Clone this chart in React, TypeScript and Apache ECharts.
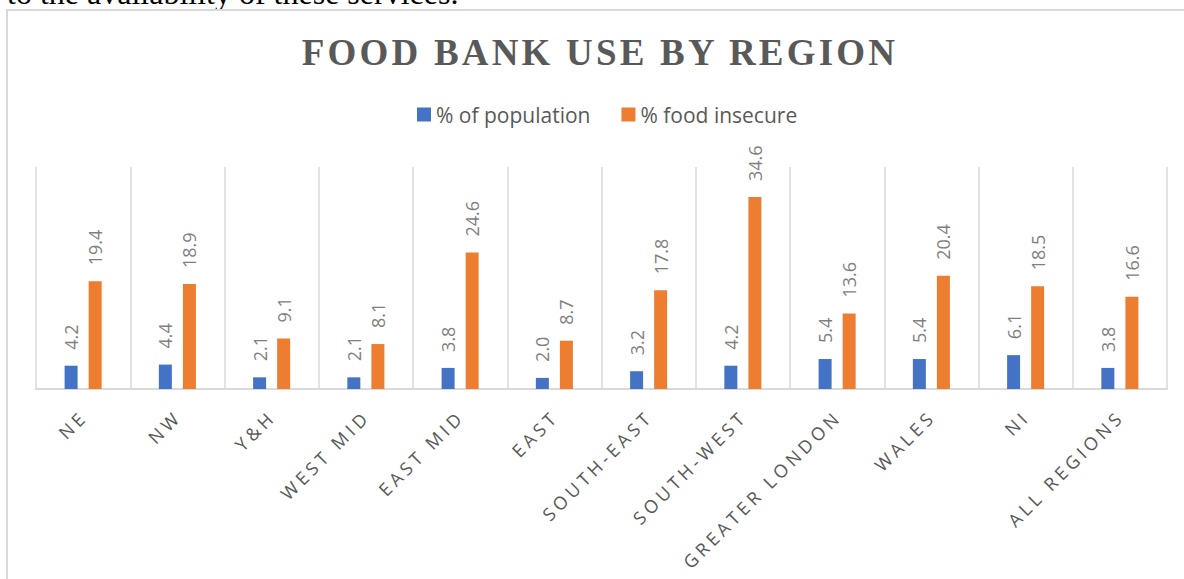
import React, { useEffect, useRef } from "react";
import * as echarts from "echarts";

const categories = [
  "NE",
  "NW",
  "Y&H",
  "WEST MID",
  "EAST MID",
  "EAST",
  "SOUTH-EAST",
  "SOUTH-WEST",
  "GREATER LONDON",
  "WALES",
  "NI",
  "ALL REGIONS",
];
const pctPopulation = [4.2, 4.4, 2.1, 2.1, 3.8, 2.0, 3.2, 4.2, 5.4, 5.4, 6.1, 3.8];
const pctFoodInsecure = [19.4, 18.9, 9.1, 8.1, 24.6, 8.7, 17.8, 34.6, 13.6, 20.4, 18.5, 16.6];
const seriesNames = ["% of population", "% food insecure"];
const seriesColors = ["#4472C4", "#ED7D31"];
const titleText = "FOOD BANK USE BY REGION";
const introText = "to the availability of these services.";

export default function App() {
  const ref = useRef<HTMLDivElement>(null);

  useEffect(() => {
    const el = ref.current;
    if (!el) return;
    const chart = echarts.init(el, undefined, { renderer: "svg" });

    const label = {
      show: true,
      position: "top",
      distance: 16,
      rotate: 90,
      align: "left",
      verticalAlign: "middle",
      fontFamily: "Open Sans",
      fontSize: 18,
      color: "#7F7F7F",
      formatter: (p: any) => Number(p.value).toFixed(1),
    };

    chart.setOption({
      animation: false,
      backgroundColor: "#ffffff",
      graphic: [
        {
          type: "text",
          x: 7,
          y: -7,
          silent: true,
          style: {
            text: introText,
            fontFamily: "Liberation Serif",
            fontSize: 32,
            fill: "#000000",
            align: "left",
            verticalAlign: "middle",
          },
        },
        {
          type: "rect",
          silent: true,
          shape: { x: 7, y: 10, width: 1240, height: 640 },
          style: { fill: "none", stroke: "#D9D9D9", lineWidth: 2 },
        },
        {
          type: "text",
          x: 600,
          y: 52,
          silent: true,
          style: {
            text: titleText,
            fontFamily: "Liberation Serif",
            fontWeight: "bold",
            fontSize: 37,
            fill: "#595959",
            align: "center",
            verticalAlign: "middle",
          },
        },
      ],
      legend: {
        data: seriesNames,
        left: 417,
        top: 104,
        padding: 0,
        itemWidth: 14,
        itemHeight: 14,
        itemGap: 31,
        icon: "rect",
        textStyle: { fontFamily: "Open Sans", fontSize: 21, color: "#595959" },
      },
      grid: { left: 36, right: 17, top: 167, bottom: 190 },
      xAxis: {
        type: "category",
        data: categories,
        axisLine: { lineStyle: { color: "#D9D9D9", width: 2 } },
        axisTick: { show: false },
        splitLine: { show: true, lineStyle: { color: "#D9D9D9", width: 1.5 } },
        axisLabel: {
          interval: 0,
          rotate: 45,
          margin: 25,
          fontFamily: "Open Sans",
          fontSize: 18,
          color: "#595959",
        },
      },
      yAxis: { type: "value", min: 0, max: 40, show: false, splitLine: { show: false } },
      series: [
        {
          name: seriesNames[0],
          type: "bar",
          data: pctPopulation,
          barWidth: 13,
          barGap: "85%",
          itemStyle: { color: seriesColors[0] },
          label,
        },
        {
          name: seriesNames[1],
          type: "bar",
          data: pctFoodInsecure,
          barWidth: 13,
          barGap: "85%",
          itemStyle: { color: seriesColors[1] },
          label,
        },
      ],
    });

    const applySpacing = () => {
      el.querySelectorAll("text").forEach((t) => {
        const s = (t.textContent || "").trim();
        if (s === titleText) t.setAttribute("letter-spacing", "3.2px");
        else if (categories.includes(s)) {
          t.setAttribute("letter-spacing", "4px");
          t.setAttribute("dx", "1");
        }
      });
    };
    applySpacing();
    chart.on("finished", applySpacing);

    return () => {
      chart.dispose();
    };
  }, []);

  return (
    <div
      ref={ref}
      style={{ position: "absolute", left: 0, top: 0, width: 1184, height: 579 }}
    />
  );
}
